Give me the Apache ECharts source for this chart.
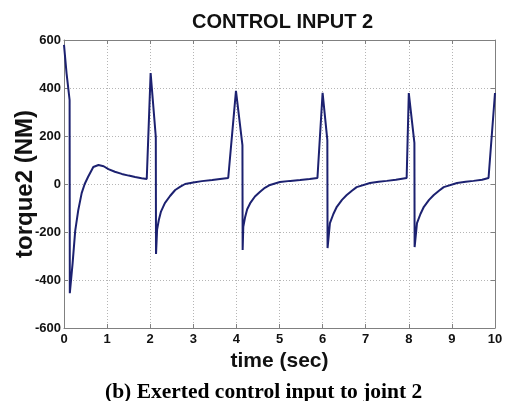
<!DOCTYPE html>
<html>
<head>
<meta charset="utf-8">
<script src="https://cdn.jsdelivr.net/npm/echarts@6/dist/echarts.min.js"></script>
<style>
html,body{margin:0;padding:0;background:#fff;}
#chart{width:505px;height:401px;}
</style>
</head>
<body>
<div id="chart"></div>
<script>
// Data
var chartTitle = "CONTROL INPUT 2";
var xAxisName = "time (sec)";
var yAxisName = "torque2 (NM)";
var caption = "(b) Exerted control input to joint 2";
var xTicks = [0, 1, 2, 3, 4, 5, 6, 7, 8, 9, 10];
var yTicks = [-600, -400, -200, 0, 200, 400, 600];

var timeSec = [
  0.00, 0.06, 0.13, 0.135, 0.20, 0.26, 0.33, 0.41, 0.48, 0.56, 0.68, 0.80, 0.92, 1.03, 1.18, 1.34, 1.50, 1.65, 1.80, 1.92,
  2.01, 2.13, 2.135, 2.16, 2.20, 2.25, 2.34, 2.46, 2.58, 2.70, 2.81, 3.00, 3.20, 3.44, 3.62, 3.81,
  3.99, 4.14, 4.145, 4.16, 4.20, 4.25, 4.32, 4.43, 4.55, 4.66, 4.78, 5.01, 5.25, 5.48, 5.70, 5.88,
  6.00, 6.11, 6.115, 6.17, 6.25, 6.33, 6.45, 6.56, 6.68, 6.79, 7.10, 7.30, 7.49, 7.70, 7.95,
  8.00, 8.13, 8.135, 8.19, 8.27, 8.35, 8.47, 8.58, 8.70, 8.81, 9.12, 9.32, 9.50, 9.70, 9.85,
  10.00
];
var torque2 = [
  580, 460, 350, -455, -330, -195, -110, -38, 0, 30, 71, 79, 74, 62, 51, 42, 35, 29, 24, 21,
  462, 196, -292, -190, -150, -115, -80, -50, -25, -11, 0, 6, 12, 17, 21, 25,
  388, 162, -275, -178, -140, -105, -80, -52, -32, -16, -4, 8, 13, 17, 21, 25,
  380, 183, -267, -163, -125, -95, -66, -46, -28, -13, 4, 9, 13, 18, 25,
  379, 171, -263, -163, -125, -95, -66, -46, -28, -13, 4, 9, 13, 18, 25,
  379
];

var seriesData = timeSec.map(function (t, i) { return [t, torque2[i]]; });

var chart = echarts.init(document.getElementById('chart'), null, {renderer: 'canvas'});
var fontSans = '"Liberation Sans", Arial, sans-serif';
var axisLineStyle = {color: '#808080', width: 1};
var gridLine = {show: true, lineStyle: {type: [1, 2], color: '#b5b5b5', width: 1}};

chart.setOption({
  backgroundColor: '#ffffff',
  animation: false,
  title: {
    text: chartTitle,
    left: 187,
    top: 7,
    textStyle: {fontFamily: fontSans, fontWeight: 'bold', fontSize: 20, color: '#111'}
  },
  grid: {left: 64, right: 10, top: 40, bottom: 73, containLabel: false, outerBoundsMode: 'none'},
  xAxis: [{
    type: 'value', min: 0, max: 10, interval: 1,
    name: xAxisName, nameLocation: 'middle', nameGap: 21,
    nameTextStyle: {fontFamily: fontSans, fontWeight: 'bold', fontSize: 21, color: '#111'},
    axisLine: {show: true, onZero: false, lineStyle: axisLineStyle},
    axisTick: {show: true, inside: true, length: 4, lineStyle: axisLineStyle},
    axisLabel: {fontFamily: fontSans, fontWeight: 'bold', fontSize: 13, color: '#111', margin: 5,
      formatter: function (v) { return xTicks.indexOf(v) >= 0 ? String(v) : ''; }},
    splitLine: gridLine
  }, {
    type: 'value', min: 0, max: 10, interval: 1, position: 'top',
    axisLine: {show: true, onZero: false, lineStyle: axisLineStyle},
    axisTick: {show: true, inside: true, length: 4, lineStyle: axisLineStyle},
    axisLabel: {show: false}, splitLine: {show: false}
  }],
  yAxis: [{
    type: 'value', min: -600, max: 600, interval: 200,
    axisLine: {show: true, onZero: false, lineStyle: axisLineStyle},
    axisTick: {show: true, inside: true, length: 4, lineStyle: axisLineStyle},
    axisLabel: {fontFamily: fontSans, fontWeight: 'bold', fontSize: 13, color: '#111', margin: 3,
      formatter: function (v) { return yTicks.indexOf(v) >= 0 ? String(v) : ''; }},
    splitLine: gridLine
  }, {
    type: 'value', min: -600, max: 600, interval: 200, position: 'right',
    axisLine: {show: true, onZero: false, lineStyle: axisLineStyle},
    axisTick: {show: true, inside: true, length: 4, lineStyle: axisLineStyle},
    axisLabel: {show: false}, splitLine: {show: false}
  }],
  graphic: [{
    type: 'text',
    x: 25,
    y: 184,
    rotation: Math.PI / 2,
    style: {
      text: yAxisName,
      font: 'bold 24px "Liberation Sans", Arial, sans-serif',
      fill: '#111',
      align: 'center',
      verticalAlign: 'middle'
    }
  }, {
    type: 'text',
    left: 105,
    top: 381,
    style: {
      text: caption,
      font: 'bold 21.5px "Liberation Serif", "Times New Roman", serif',
      fill: '#000'
    }
  }],
  series: [{
    type: 'line',
    data: seriesData,
    showSymbol: false,
    smooth: false,
    lineStyle: {color: '#1c2170', width: 2},
    itemStyle: {color: '#1c2170'}
  }]
});
</script>
</body>
</html>
